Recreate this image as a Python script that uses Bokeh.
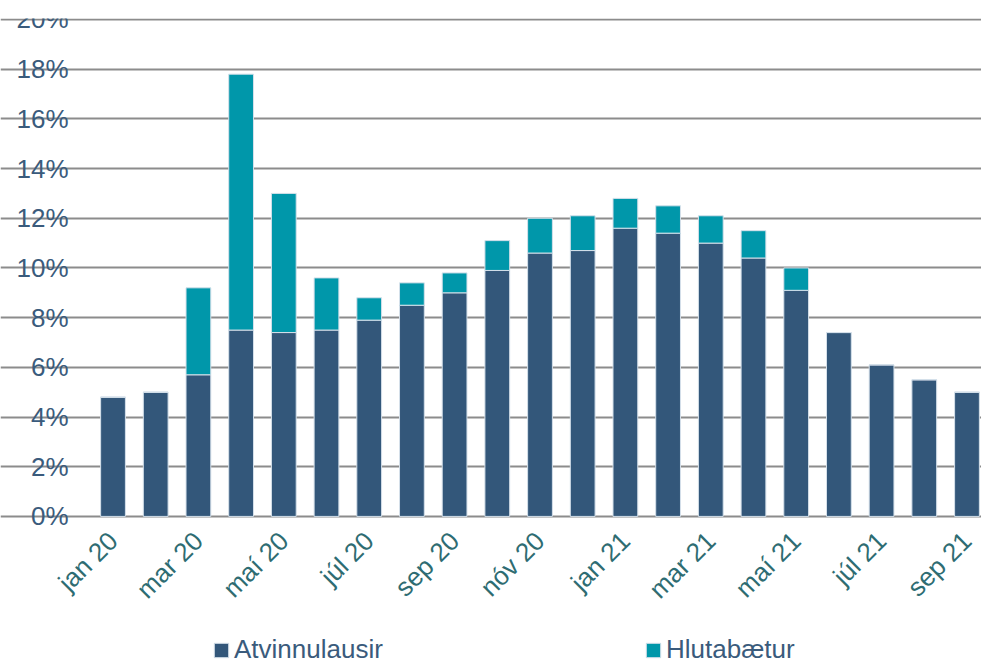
from bokeh.plotting import figure
from bokeh.models import ColumnDataSource, FixedTicker, PrintfTickFormatter, Legend, LegendItem, Range1d
from bokeh.embed import file_html
from bokeh.resources import INLINE

months = ["jan 20", "feb 20", "mar 20", "apr 20", "maí 20", "jún 20", "júl 20", "ágú 20",
          "sep 20", "okt 20", "nóv 20", "des 20", "jan 21", "feb 21", "mar 21", "apr 21",
          "maí 21", "jún 21", "júl 21", "ágú 21", "sep 21"]
atvinnulausir = [4.8, 5.0, 5.7, 7.5, 7.4, 7.5, 7.9, 8.5, 9.0, 9.9, 10.6, 10.7,
                 11.6, 11.4, 11.0, 10.4, 9.1, 7.4, 6.1, 5.5, 5.0]
hlutabaetur = [0.0, 0.0, 3.5, 10.3, 5.6, 2.1, 0.9, 0.9, 0.8, 1.2, 1.4, 1.4,
               1.2, 1.1, 1.1, 1.1, 0.9, 0.0, 0.0, 0.0, 0.0]
y_ticks = [0, 2, 4, 6, 8, 10, 12, 14, 16, 18, 20]

DARK = "#33577A"
TEAL = "#0097AA"
FONT = "Liberation Sans"

src = ColumnDataSource(dict(x=list(range(len(months))), atv=atvinnulausir, hlu=hlutabaetur))

# frame covers the whole page so axis labels and legend are drawn inside it
p = figure(frame_width=981, frame_height=645, output_backend="svg", toolbar_location=None,
           x_range=Range1d(-2.635, 20.34), y_range=Range1d(-5.92, 20.04),
           min_border_left=0, min_border_right=0, min_border_top=18, min_border_bottom=0)
p.outline_line_color = None
p.background_fill_color = "white"

r = p.vbar_stack(["atv", "hlu"], x="x", width=0.58, source=src,
                 color=[DARK, TEAL], line_color="#D5E0EA", line_width=1)

p.xgrid.grid_line_color = None
p.ygrid.grid_line_color = "#8C8C8C"
p.ygrid.grid_line_width = 2
p.ygrid.bounds = (-0.48, 20.34)
p.yaxis.ticker = FixedTicker(ticks=y_ticks)
p.yaxis.formatter = PrintfTickFormatter(format="%d%%")
p.yaxis.fixed_location = -0.48
p.xaxis.ticker = FixedTicker(ticks=list(range(0, len(months), 2)))
p.xaxis.major_label_overrides = {i: m for i, m in enumerate(months)}
p.xaxis.major_label_orientation = 0.785398
p.xaxis.fixed_location = 0

for ax in (p.xaxis[0], p.yaxis[0]):
    ax.axis_line_color = None
    ax.major_tick_line_color = None
    ax.minor_tick_line_color = None
    ax.major_tick_out = 0
    ax.major_tick_in = 0
    ax.minor_tick_out = 0
    ax.major_label_text_font = FONT
    ax.major_label_text_font_size = "26px"
p.yaxis.major_label_text_color = "#3A5B7C"
p.xaxis.major_label_text_color = "#2E6C72"
p.yaxis.major_label_standoff = 24
p.xaxis.major_label_standoff = 20

legend = Legend(items=[LegendItem(label="Atvinnulausir", renderers=[r[0]]),
                       LegendItem(label="Hlutabætur", renderers=[r[1]])],
                orientation="horizontal", location=(212, -2),
                spacing=215, glyph_width=18, glyph_height=18, label_standoff=4,
                label_width=195,
                label_text_font=FONT, label_text_font_size="26px",
                label_text_color="#3A5B7C", border_line_color=None,
                background_fill_alpha=0, padding=0, margin=0)
p.add_layout(legend, "center")

open("out.html", "w").write(file_html(p, INLINE))
